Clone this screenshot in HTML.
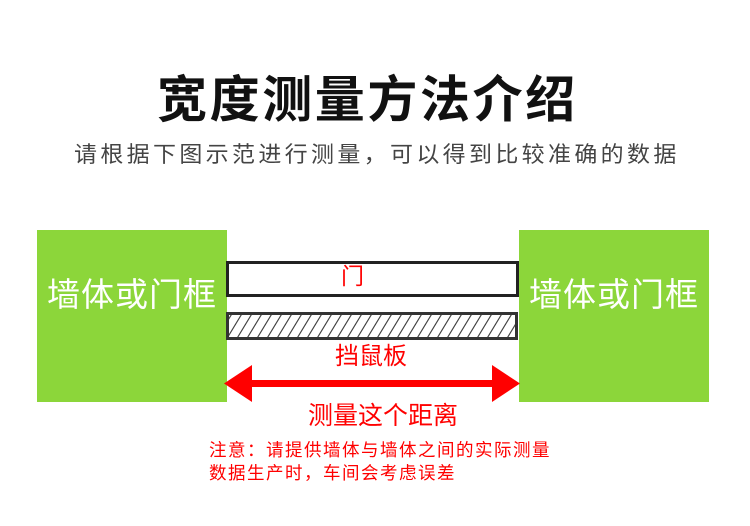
<!DOCTYPE html>
<html><head><meta charset="utf-8"><style>
body{margin:0;width:750px;height:526px;background:#fff;position:relative;overflow:hidden;font-family:"Liberation Sans","Noto Sans CJK SC",sans-serif}
.a{position:absolute;white-space:nowrap}
.t{left:157px;top:70px;font-size:50px;font-weight:bold;letter-spacing:2.6px;color:#111;line-height:60px}
.s{left:74px;top:140px;font-size:22px;color:#444;line-height:30px}
.g{background:#8cd63a;top:230px;height:172px;width:190px}
.gt{color:#fff;font-size:33px;line-height:40px;top:275px}
.r{color:#f00}
</style></head><body>
<div class="a t">宽度测量方法介绍</div>
<div class="a s" style="letter-spacing:3.2px;transform:scale(1.045,1);transform-origin:left">请根据下图示范进行测量，可以得到比较准确的数据</div>
<div class="a g" style="left:37px"></div>
<div class="a g" style="left:519px"></div>
<div class="a gt" style="left:47px;letter-spacing:1px">墙体或门框</div>
<div class="a gt" style="left:529px;letter-spacing:1px">墙体或门框</div>
<div class="a" style="left:226px;top:261px;width:287px;height:30px;border:3px solid #222"></div>
<div class="a r" style="left:341px;top:261px;font-size:23px;line-height:30px">门</div>
<svg class="a" style="left:226px;top:312px" width="292" height="28">
<defs><pattern id="h" width="10" height="28" patternUnits="userSpaceOnUse"><line x1="0" y1="28" x2="17" y2="0" stroke="#444" stroke-width="1.2"/><line x1="-10" y1="28" x2="7" y2="0" stroke="#444" stroke-width="1.2"/></pattern></defs>
<rect x="1.5" y="1.5" width="289" height="25" fill="url(#h)" stroke="#333" stroke-width="3"/>
</svg>
<div class="a r" style="left:335px;top:341px;font-size:24px;line-height:32px">挡鼠板</div>
<svg class="a" style="left:224px;top:365px" width="296" height="38">
<rect x="20" y="15" width="256" height="7" fill="#f00"/>
<polygon points="0,18.5 28,0 28,37" fill="#f00"/>
<polygon points="296,18.5 268,0 268,37" fill="#f00"/>
</svg>
<div class="a r" style="left:308px;top:399px;font-size:25px;line-height:34px">测量这个距离</div>
<div class="a r" style="left:209px;top:439px;font-size:17.5px;letter-spacing:1.5px;line-height:23px">注意：请提供墙体与墙体之间的实际测量<br>数据生产时，车间会考虑误差</div>
</body></html>
